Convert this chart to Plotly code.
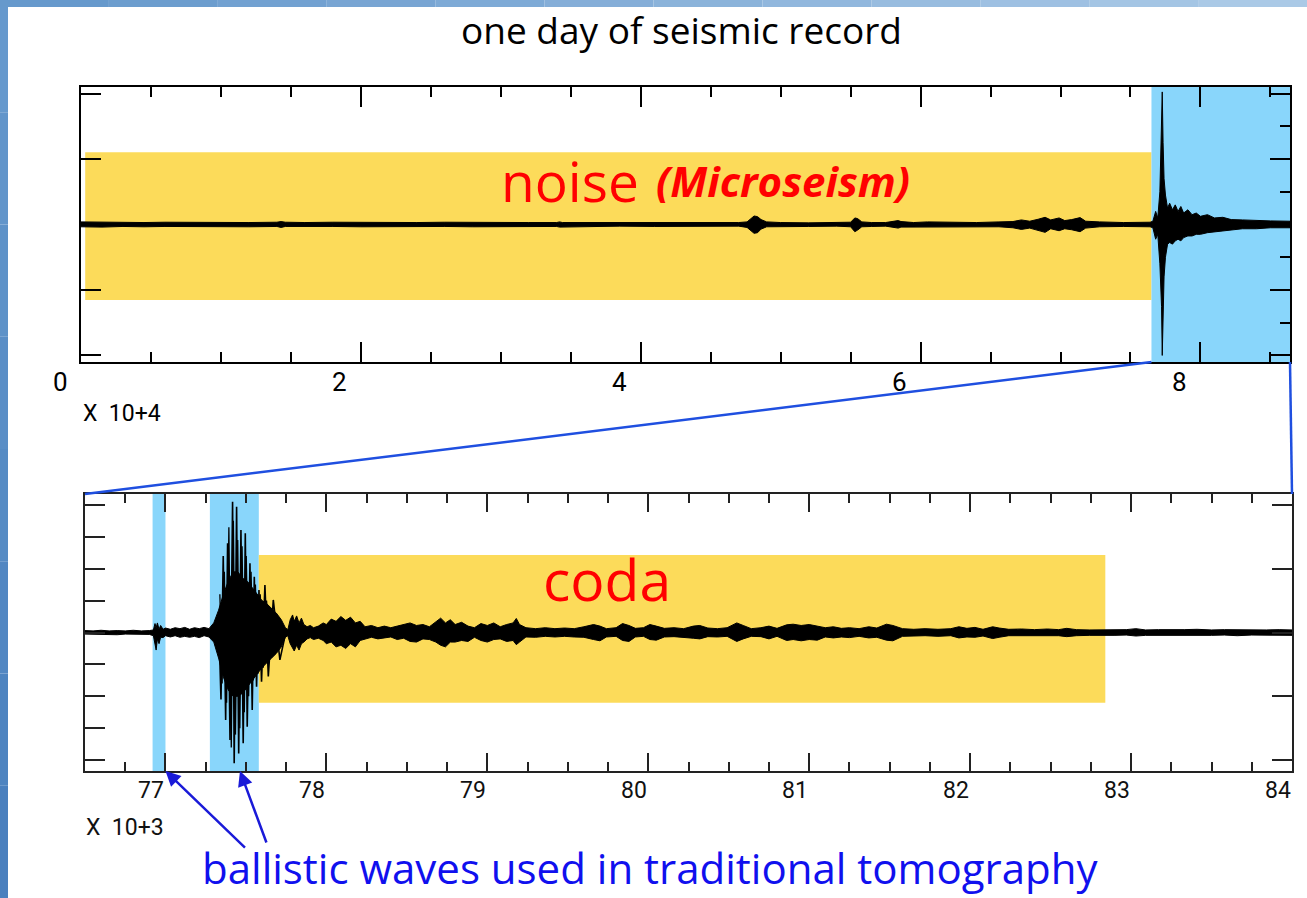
import plotly.graph_objects as go

W, H = 1307, 898

# ---------------- DATA ----------------
# Top panel: one day of record (time in units of 1e4 s), upper / lower envelope of the trace
day_t = [0.00, 0.15, 0.30, 0.45, 0.60, 0.80, 1.00, 1.20, 1.40, 1.43, 1.46, 1.60,
         1.80, 2.00, 2.20, 2.40, 2.60, 2.80, 3.00, 3.20, 3.40, 3.42, 3.44, 3.60,
         3.85, 4.10, 4.30, 4.50, 4.70, 4.76, 4.79, 4.81, 4.835, 4.86, 4.90, 5.00,
         5.20, 5.40, 5.50, 5.53, 5.55, 5.58, 5.65, 5.75, 5.84, 5.86, 5.95, 6.05,
         6.21, 6.40, 6.56, 6.66, 6.72, 6.78, 6.84, 6.89, 6.93, 6.99, 7.03, 7.08,
         7.14, 7.18, 7.28, 7.45, 7.64, 7.66, 7.68, 7.695, 7.71, 7.722, 7.727, 7.733,
         7.74, 7.75, 7.765, 7.78, 7.80, 7.82, 7.84, 7.86, 7.88, 7.91, 7.94, 7.97,
         8.00, 8.05, 8.10, 8.16, 8.22, 8.30, 8.40, 8.50, 8.64]
day_hi = [0.08, 0.07, 0.08, 0.06, 0.07, 0.06, 0.07, 0.06, 0.07, 0.09, 0.07, 0.06,
          0.07, 0.06, 0.07, 0.06, 0.07, 0.06, 0.07, 0.06, 0.06, 0.08, 0.06, 0.06,
          0.06, 0.05, 0.06, 0.05, 0.06, 0.08, 0.18, 0.26, 0.24, 0.15, 0.08, 0.06,
          0.05, 0.06, 0.07, 0.20, 0.18, 0.08, 0.06, 0.06, 0.12, 0.09, 0.06, 0.08,
          0.07, 0.06, 0.08, 0.09, 0.14, 0.10, 0.16, 0.22, 0.14, 0.20, 0.12, 0.15,
          0.21, 0.10, 0.08, 0.06, 0.07, 0.10, 0.40, 0.20, 1.00, 3.00, 4.05, 2.50,
          1.40, 0.90, 0.50, 0.65, 0.45, 0.60, 0.40, 0.55, 0.35, 0.45, 0.30, 0.35,
          0.25, 0.30, 0.20, 0.22, 0.15, 0.14, 0.12, 0.11, 0.10]
day_lo = [-0.07, -0.08, -0.06, -0.07, -0.06, -0.07, -0.06, -0.07, -0.06, -0.09, -0.06, -0.07,
          -0.06, -0.07, -0.06, -0.07, -0.06, -0.07, -0.06, -0.07, -0.06, -0.08, -0.06, -0.07,
          -0.05, -0.06, -0.05, -0.06, -0.05, -0.09, -0.20, -0.27, -0.25, -0.14, -0.07, -0.06,
          -0.06, -0.05, -0.07, -0.22, -0.17, -0.07, -0.06, -0.05, -0.11, -0.08, -0.07, -0.07,
          -0.07, -0.07, -0.07, -0.10, -0.15, -0.11, -0.17, -0.24, -0.13, -0.19, -0.13, -0.16,
          -0.22, -0.11, -0.07, -0.06, -0.07, -0.10, -0.45, -0.30, -1.20, -2.50, -4.00, -3.00,
          -1.60, -1.00, -0.60, -0.55, -0.60, -0.50, -0.45, -0.50, -0.40, -0.35, -0.35, -0.30,
          -0.30, -0.25, -0.22, -0.18, -0.17, -0.13, -0.13, -0.10, -0.10]

# Lower panel: zoom on the earthquake (time in units of 1e3 s), upper / lower envelope
zoom_t = [76.50, 76.55, 76.60, 76.65, 76.70, 76.75, 76.80, 76.85, 76.90, 76.925,
          76.935, 76.942, 76.950, 76.960, 76.970, 76.985, 77.00, 77.03, 77.06, 77.09,
          77.12, 77.15, 77.18, 77.21, 77.24, 77.27, 77.30, 77.33, 77.36, 77.39,
          77.42, 77.45, 77.48, 77.51, 77.54, 77.57, 77.60, 77.63, 77.66, 77.69,
          77.72, 77.745, 77.76, 77.775, 77.79, 77.80, 77.815, 77.83, 77.845, 77.86,
          77.88, 77.90, 77.92, 77.95, 77.98, 78.00, 78.03, 78.06, 78.09, 78.12,
          78.15, 78.18, 78.21, 78.24, 78.28, 78.32, 78.36, 78.40, 78.44, 78.48,
          78.52, 78.56, 78.60, 78.64, 78.68, 78.71, 78.74, 78.77, 78.80, 78.84,
          78.88, 78.92, 78.96, 79.00, 79.04, 79.08, 79.12, 79.16, 79.18, 79.20,
          79.24, 79.30, 79.36, 79.42, 79.48, 79.54, 79.60, 79.66, 79.70, 79.74,
          79.80, 79.84, 79.88, 79.92, 79.97, 80.01, 80.05, 80.10, 80.16, 80.22,
          80.28, 80.32, 80.37, 80.43, 80.49, 80.55, 80.59, 80.64, 80.70, 80.75,
          80.80, 80.86, 80.90, 80.95, 81.00, 81.05, 81.10, 81.15, 81.20, 81.25,
          81.31, 81.37, 81.42, 81.48, 81.52, 81.58, 81.65, 81.72, 81.80, 81.88,
          81.93, 81.98, 82.03, 82.08, 82.14, 82.18, 82.24, 82.32, 82.40, 82.48,
          82.55, 82.60, 82.66, 82.74, 82.82, 82.90, 82.97, 83.03, 83.09, 83.17,
          83.25, 83.33, 83.41, 83.50, 83.58, 83.66, 83.75, 83.84, 83.92, 84.00]
zoom_hi = [0.06, 0.05, 0.07, 0.05, 0.06, 0.05, 0.07, 0.05, 0.06, 0.08,
           0.28, 0.15, 0.30, 0.10, 0.22, 0.10, 0.14, 0.10, 0.15, 0.12,
           0.16, 0.10, 0.15, 0.12, 0.16, 0.12, 0.30, 0.70, 1.20, 1.60,
           1.90, 1.90, 1.70, 1.60, 1.40, 1.20, 1.00, 0.90, 0.75, 0.60,
           0.40, 0.15, 0.08, 0.40, 0.55, 0.35, 0.52, 0.30, 0.45, 0.25,
           0.18, 0.22, 0.15, 0.20, 0.30, 0.25, 0.42, 0.35, 0.50, 0.38,
           0.48, 0.30, 0.35, 0.18, 0.22, 0.15, 0.20, 0.15, 0.20, 0.25,
           0.30, 0.22, 0.25, 0.18, 0.35, 0.45, 0.30, 0.40, 0.25, 0.32,
           0.20, 0.15, 0.28, 0.22, 0.30, 0.18, 0.25, 0.30, 0.44, 0.25,
           0.15, 0.12, 0.15, 0.12, 0.14, 0.12, 0.18, 0.25, 0.20, 0.12,
           0.15, 0.28, 0.22, 0.13, 0.15, 0.25, 0.20, 0.13, 0.15, 0.12,
           0.20, 0.22, 0.14, 0.12, 0.15, 0.30, 0.22, 0.12, 0.15, 0.20,
           0.13, 0.24, 0.26, 0.22, 0.25, 0.20, 0.15, 0.18, 0.13, 0.15,
           0.12, 0.18, 0.14, 0.26, 0.22, 0.12, 0.10, 0.12, 0.10, 0.12,
           0.18, 0.13, 0.16, 0.10, 0.18, 0.14, 0.10, 0.11, 0.09, 0.11,
           0.09, 0.13, 0.09, 0.08, 0.09, 0.08, 0.09, 0.12, 0.08, 0.09,
           0.08, 0.09, 0.10, 0.08, 0.09, 0.08, 0.09, 0.08, 0.09, 0.08]
zoom_lo = [-0.05, -0.06, -0.05, -0.06, -0.07, -0.05, -0.06, -0.05, -0.06, -0.10,
           -0.40, -0.55, -0.20, -0.35, -0.15, -0.16, -0.10, -0.14, -0.10, -0.15,
           -0.12, -0.15, -0.12, -0.16, -0.10, -0.14, -0.30, -0.80, -1.40, -1.80,
           -2.00, -2.00, -1.90, -1.70, -1.50, -1.30, -1.10, -0.95, -0.80, -0.65,
           -0.45, -0.15, -0.10, -0.35, -0.50, -0.58, -0.40, -0.55, -0.35, -0.30,
           -0.20, -0.16, -0.22, -0.18, -0.25, -0.35, -0.30, -0.45, -0.40, -0.50,
           -0.35, -0.45, -0.25, -0.20, -0.15, -0.20, -0.18, -0.14, -0.22, -0.18,
           -0.28, -0.30, -0.20, -0.22, -0.30, -0.40, -0.45, -0.30, -0.30, -0.25,
           -0.28, -0.15, -0.25, -0.30, -0.22, -0.20, -0.28, -0.25, -0.38, -0.30,
           -0.14, -0.15, -0.12, -0.14, -0.12, -0.14, -0.15, -0.22, -0.26, -0.14,
           -0.12, -0.25, -0.28, -0.14, -0.12, -0.22, -0.24, -0.14, -0.13, -0.15,
           -0.18, -0.20, -0.13, -0.14, -0.12, -0.28, -0.20, -0.12, -0.13, -0.20,
           -0.12, -0.25, -0.22, -0.26, -0.22, -0.24, -0.14, -0.17, -0.14, -0.16,
           -0.12, -0.17, -0.15, -0.24, -0.26, -0.12, -0.11, -0.10, -0.12, -0.10,
           -0.17, -0.14, -0.15, -0.11, -0.19, -0.15, -0.10, -0.09, -0.11, -0.10,
           -0.10, -0.13, -0.10, -0.09, -0.08, -0.09, -0.08, -0.11, -0.09, -0.08,
           -0.09, -0.08, -0.09, -0.09, -0.08, -0.10, -0.08, -0.09, -0.08, -0.09]

# Main (surface-wave) arrival: outer oscillation peaks
arr_t = [77.287, 77.301, 77.318, 77.330, 77.345, 77.359, 77.374, 77.386, 77.401, 77.417,
         77.427, 77.442, 77.455, 77.469, 77.483, 77.496, 77.508, 77.525, 77.539, 77.552,
         77.566, 77.581, 77.597, 77.618, 77.639, 77.670, 77.711, 77.753]
arr_v = [0.03, 0.23, -0.24, 0.50, -2.10, 2.40, -2.74, 2.80, -3.37, 4.10,
         -4.10, 3.94, -3.79, 3.21, -3.47, 3.11, -2.95, 2.17, -2.43, 1.75,
         -1.70, 1.33, -1.54, 1.49, -1.38, 1.02, -0.86, 0.13]
# inner oscillation peaks of the same arrival
arr2_t = [77.338, 77.352, 77.366, 77.380, 77.394, 77.409, 77.422, 77.435, 77.449, 77.462,
          77.476, 77.490, 77.502, 77.517, 77.532, 77.546, 77.559, 77.574, 77.589, 77.608,
          77.628, 77.655, 77.690]
arr2_v = [1.2, -1.6, 1.9, -2.2, 3.3, -3.6, 3.5, -3.2, 2.9, -3.0,
          2.7, -2.5, 2.4, -2.0, 1.9, -1.5, 1.5, -1.3, 1.2, -1.1,
          1.0, -0.8, 0.6]

# Highlighted windows
noise_win_x = [0.03, 7.65]
noise_win_y = [-2.31, 2.21]
event_win_x = [7.65, 8.64]
ballistic_win1 = [76.92, 77.00]
ballistic_win2 = [77.276, 77.58]
coda_win_x = [77.58, 82.84]
coda_win_y = [-2.20, 2.43]
arrow_targets = [77.00, 77.463]

top_ticks = [0, 2, 4, 6, 8]
top_tick_labels = ["0", "2", "4", "6", "8"]
low_ticks = [77, 78, 79, 80, 81, 82, 83, 84]
low_tick_labels = ["77", "78", "79", "80", "81", "82", "83", "84"]

# ---------------- LAYOUT CONSTANTS ----------------
TOP_X = [81 / W, 1290 / W]
TOP_Y = [1 - 362 / H, 1 - 87 / H]
LOW_X = [85 / W, 1292 / W]
LOW_Y = [1 - 771 / H, 1 - 494 / H]
TOP_XR = [0, 8.64]
TOP_YR = [-4.2, 4.2]
LOW_XR = [76.5, 84.0]
LOW_YR = [-4.34, 4.34]

YELLOW = "#fcdb5a"
LBLUE = "#89d6fb"
NUMFONT = "Roboto, DejaVu Sans, sans-serif"
TXTFONT = "Open Sans, Noto Sans, sans-serif"


def px(v):
    return v / W


def py(v):
    return 1 - v / H


fig = go.Figure()

# top trace
fig.add_trace(go.Scatter(
    x=day_t + day_t[::-1], y=day_hi + day_lo[::-1], fill="toself",
    fillcolor="black", mode="lines", line=dict(color="black", width=1),
    xaxis="x", yaxis="y", hoverinfo="skip", showlegend=False))

# lower trace envelope
fig.add_trace(go.Scatter(
    x=zoom_t + zoom_t[::-1], y=zoom_hi + zoom_lo[::-1], fill="toself",
    fillcolor="black", mode="lines", line=dict(color="black", width=1),
    xaxis="x2", yaxis="y2", hoverinfo="skip", showlegend=False))

# main arrival oscillations
fig.add_trace(go.Scatter(
    x=arr_t, y=arr_v, mode="lines", line=dict(color="black", width=1.6),
    xaxis="x2", yaxis="y2", hoverinfo="skip", showlegend=False))
fig.add_trace(go.Scatter(
    x=arr2_t, y=arr2_v, mode="lines", line=dict(color="black", width=1.3),
    xaxis="x2", yaxis="y2", hoverinfo="skip", showlegend=False))

# empty traces to anchor right-hand tick axes
fig.add_trace(go.Scatter(x=[], y=[], xaxis="x", yaxis="y3", showlegend=False))
fig.add_trace(go.Scatter(x=[], y=[], xaxis="x2", yaxis="y4", showlegend=False))

shapes = []
# page border strips (left and top), stepped gradient
left_cols = ["#6699cd", "#6295ca", "#5e92c8", "#5a8ec6", "#568bc4", "#5287c2",
             "#4e84c0", "#4a80be"]
n = len(left_cols)
for i, c in enumerate(left_cols):
    shapes.append(dict(type="rect", xref="paper", yref="paper",
                       x0=0, x1=px(8), y0=1 - (i + 1) / n, y1=1 - i / n,
                       fillcolor=c, line=dict(width=0), layer="above"))
top_cols = ["#6699cc", "#6c9dce", "#72a1d1", "#78a5d3", "#7eaad6", "#85aed8",
            "#8bb3da", "#91b7dd", "#98bcdf", "#9ec0e2", "#a4c5e4", "#aac9e6"]
m = len(top_cols)
for i, c in enumerate(top_cols):
    shapes.append(dict(type="rect", xref="paper", yref="paper",
                       x0=i / m, x1=(i + 1) / m, y0=py(7), y1=1,
                       fillcolor=c, line=dict(width=0), layer="above"))

# highlighted windows
shapes.append(dict(type="rect", xref="x", yref="y", x0=noise_win_x[0], x1=noise_win_x[1],
                   y0=noise_win_y[0], y1=noise_win_y[1], fillcolor=YELLOW,
                   line=dict(width=0), layer="below"))
shapes.append(dict(type="rect", xref="x", yref="y", x0=event_win_x[0], x1=event_win_x[1],
                   y0=TOP_YR[0], y1=TOP_YR[1], fillcolor=LBLUE,
                   line=dict(width=0), layer="below"))
for w in (ballistic_win1, ballistic_win2):
    shapes.append(dict(type="rect", xref="x2", yref="y2", x0=w[0], x1=w[1],
                       y0=LOW_YR[0], y1=LOW_YR[1], fillcolor=LBLUE,
                       line=dict(width=0), layer="below"))
shapes.append(dict(type="rect", xref="x2", yref="y2", x0=coda_win_x[0], x1=coda_win_x[1],
                   y0=coda_win_y[0], y1=coda_win_y[1], fillcolor=YELLOW,
                   line=dict(width=0), layer="below"))


# zoom connector lines
def top_xpaper(v):
    return TOP_X[0] + (v - TOP_XR[0]) / (TOP_XR[1] - TOP_XR[0]) * (TOP_X[1] - TOP_X[0])


shapes.append(dict(type="line", xref="paper", yref="paper",
                   x0=top_xpaper(event_win_x[0]), y0=TOP_Y[0], x1=LOW_X[0], y1=LOW_Y[1],
                   line=dict(color="#1f4fe0", width=2.5)))
shapes.append(dict(type="line", xref="paper", yref="paper",
                   x0=top_xpaper(event_win_x[1]), y0=TOP_Y[0], x1=LOW_X[1], y1=LOW_Y[1],
                   line=dict(color="#1f4fe0", width=2.5)))

annotations = []
for v, lab in zip(top_ticks, top_tick_labels):
    annotations.append(dict(x=v, y=py(382), xref="x", yref="paper", text=lab,
                            showarrow=False, xshift=-21, xanchor="center", yanchor="middle",
                            font=dict(family=NUMFONT, size=26, color="black")))
for v, lab in zip(low_ticks, low_tick_labels):
    annotations.append(dict(x=v, y=py(790), xref="x2", yref="paper", text=lab,
                            showarrow=False, xshift=-14, xanchor="center", yanchor="middle",
                            font=dict(family=NUMFONT, size=23, color="#111")))
annotations.append(dict(x=px(81), y=py(413), xref="paper", yref="paper", text="X  10+4",
                        showarrow=False, xanchor="left", yanchor="middle",
                        font=dict(family=NUMFONT, size=23, color="black")))
annotations.append(dict(x=px(84), y=py(827), xref="paper", yref="paper", text="X  10+3",
                        showarrow=False, xanchor="left", yanchor="middle",
                        font=dict(family=NUMFONT, size=23, color="#111")))

annotations.append(dict(x=px(681), y=py(30), xref="paper", yref="paper",
                        text="one day of seismic record", showarrow=False,
                        xanchor="center", yanchor="middle",
                        font=dict(family=TXTFONT, size=37, color="black")))
annotations.append(dict(x=px(499), y=py(180), xref="paper", yref="paper",
                        text="noise", showarrow=False, xanchor="left", yanchor="middle",
                        font=dict(family=TXTFONT, size=55, color="#ff0000")))
annotations.append(dict(x=px(654), y=py(180), xref="paper", yref="paper",
                        text="<b><i>(Microseism)</i></b>", showarrow=False,
                        xanchor="left", yanchor="middle",
                        font=dict(family=TXTFONT, size=42, color="#ff0000")))
annotations.append(dict(x=px(541), y=py(579), xref="paper", yref="paper",
                        text="coda", showarrow=False, xanchor="left", yanchor="middle",
                        font=dict(family=TXTFONT, size=57, color="#ff0000")))
annotations.append(dict(x=px(650), y=0, xref="paper", yref="paper",
                        text="ballistic waves used in traditional tomography",
                        showarrow=False, xanchor="center", yanchor="bottom",
                        font=dict(family=TXTFONT, size=42, color="#1010ee")))

# arrows to ballistic windows
annotations.append(dict(x=arrow_targets[0], y=LOW_Y[0], xref="x2", yref="paper", text="",
                        showarrow=True, ax=81, ay=78, arrowhead=2, arrowsize=1.2,
                        arrowwidth=2.5, arrowcolor="#1a1ad8", standoff=0))
annotations.append(dict(x=arrow_targets[1], y=LOW_Y[0], xref="x2", yref="paper", text="",
                        showarrow=True, ax=27, ay=73, arrowhead=2, arrowsize=1.2,
                        arrowwidth=2.5, arrowcolor="#1a1ad8", standoff=0))

common = dict(showgrid=False, zeroline=False, showticklabels=False)

fig.update_layout(
    width=W, height=H, margin=dict(l=0, r=0, t=0, b=0),
    paper_bgcolor="white", plot_bgcolor="white", showlegend=False,
    xaxis=dict(domain=TOP_X, range=TOP_XR, anchor="y", tick0=0, dtick=2,
               ticks="inside", ticklen=20, tickwidth=2, tickcolor="black",
               minor=dict(dtick=0.5, tick0=0, ticks="inside", ticklen=10,
                          tickwidth=2, tickcolor="black"),
               showline=True, linewidth=2, linecolor="black", mirror="ticks", **common),
    yaxis=dict(domain=TOP_Y, range=TOP_YR, anchor="x", tick0=-4, dtick=2,
               ticks="inside", ticklen=20, tickwidth=2, tickcolor="black",
               showline=True, linewidth=2, linecolor="black", mirror=True, **common),
    yaxis3=dict(domain=TOP_Y, range=TOP_YR, anchor="x", overlaying="y", side="right",
                tick0=-4, dtick=2, ticks="inside", ticklen=20, tickwidth=2,
                tickcolor="black",
                minor=dict(dtick=1, tick0=-4, ticks="inside", ticklen=10, tickwidth=2,
                           tickcolor="black"),
                showline=False, **common),
    xaxis2=dict(domain=LOW_X, range=LOW_XR, anchor="y2", tick0=77, dtick=1,
                ticks="inside", ticklen=18, tickwidth=1.5, tickcolor="#222",
                minor=dict(dtick=0.25, tick0=77, ticks="inside", ticklen=9,
                           tickwidth=1.5, tickcolor="#222"),
                showline=True, linewidth=1.5, linecolor="#222", mirror="ticks", **common),
    yaxis2=dict(domain=LOW_Y, range=LOW_YR, anchor="x2", tick0=-4, dtick=1,
                ticks="inside", ticklen=20, tickwidth=1.5, tickcolor="#222",
                showline=True, linewidth=1.5, linecolor="#222", mirror=True, **common),
    yaxis4=dict(domain=LOW_Y, range=LOW_YR, anchor="x2", overlaying="y2", side="right",
                tick0=-4, dtick=2, ticks="inside", ticklen=20, tickwidth=1.5,
                tickcolor="#222", showline=False, **common),
    shapes=shapes, annotations=annotations,
)

fig.write_html("out.html")
